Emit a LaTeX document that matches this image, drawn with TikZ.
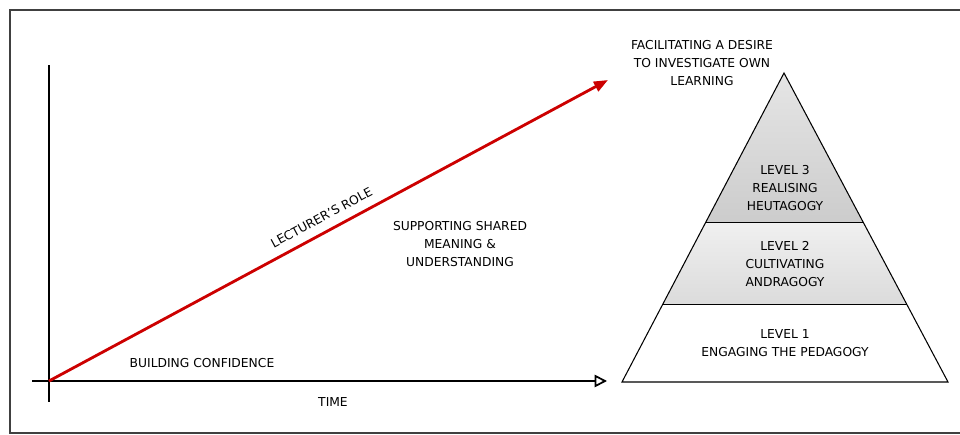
\documentclass[tikz,border=0pt]{standalone}
\usepackage{fontspec}
\setmainfont{DejaVu Sans}
\usepackage{tikz}
\usetikzlibrary{calc, positioning, arrows.meta}

\begin{document}
\begin{tikzpicture}[x=0.02cm, y=-0.02cm, every node/.style={font=\fontsize{7}{10}\selectfont, align=center, inner sep=1pt}]
			\tikzstyle{axis}=[draw=black, line width=1.4pt]
			\tikzstyle{roleline}=[draw=red!80!black, line width=1.6pt]
			\tikzstyle{level}=[draw=black, line width=0.6pt]
			
			\useasboundingbox (0,0) rectangle (960,435);
			
			%% frame
			\draw [line width=1.2pt, black!75] (960,10) -- (10,10) -- (10,433) -- (960,433);
			
			\coordinate (origin) at (49,381);
			\coordinate (ytop) at (49,65);
			\coordinate (ybot) at (49,402);
			\coordinate (xleft) at (32,381);
			\coordinate (xend) at (607,381);
			\coordinate (roleend) at (608,80);
			
			\draw [axis] (ybot) -- (ytop);
			\draw [axis, -{Triangle[open, length=7pt, width=7pt, line width=1pt]}] (xleft) -- (xend);
			\draw [roleline, -{Triangle[length=8pt, width=6pt]}] (origin) -- (roleend)
				node (role) [pos=0.5, sloped, above=4pt] {LECTURER'S ROLE};
			
			%% pyramid
			\coordinate (apex) at (784,73);
			\coordinate (bl) at (622,382);
			\coordinate (br) at (948,382);
			\coordinate (l3l) at ($(apex)!0.485!(bl)$);
			\coordinate (l3r) at ($(apex)!0.485!(br)$);
			\coordinate (l2l) at ($(apex)!0.748!(bl)$);
			\coordinate (l2r) at ($(apex)!0.748!(br)$);
			
			\shade [top color=black!10, bottom color=black!20] (apex) -- (l3r) -- (l3l) -- cycle;
			\shade [top color=black!6, bottom color=black!14] (l3l) -- (l3r) -- (l2r) -- (l2l) -- cycle;
			\fill [white] (l2l) -- (l2r) -- (br) -- (bl) -- cycle;
			\draw [level] (apex) -- (br) -- (bl) -- cycle;
			\draw [level] (l3l) -- (l3r);
			\draw [level] (l2l) -- (l2r);
			
			\node (desire) at (702,63) {FACILITATING A DESIRE\\TO INVESTIGATE OWN\\LEARNING};
			\node (lvl3) at (785,188) {LEVEL 3\\REALISING\\HEUTAGOGY};
			\node (lvl2) at (785,264) {LEVEL 2\\CULTIVATING\\ANDRAGOGY};
			\node (lvl1) at (785,343) {LEVEL 1\\ENGAGING THE PEDAGOGY};
			
			\node (shared) at (460,244) {SUPPORTING SHARED\\MEANING \&\\UNDERSTANDING};
			\node (confidence) at (202,363) {BUILDING CONFIDENCE};
			\node (time) at (333,402) {TIME};
\end{tikzpicture}
\end{document}
